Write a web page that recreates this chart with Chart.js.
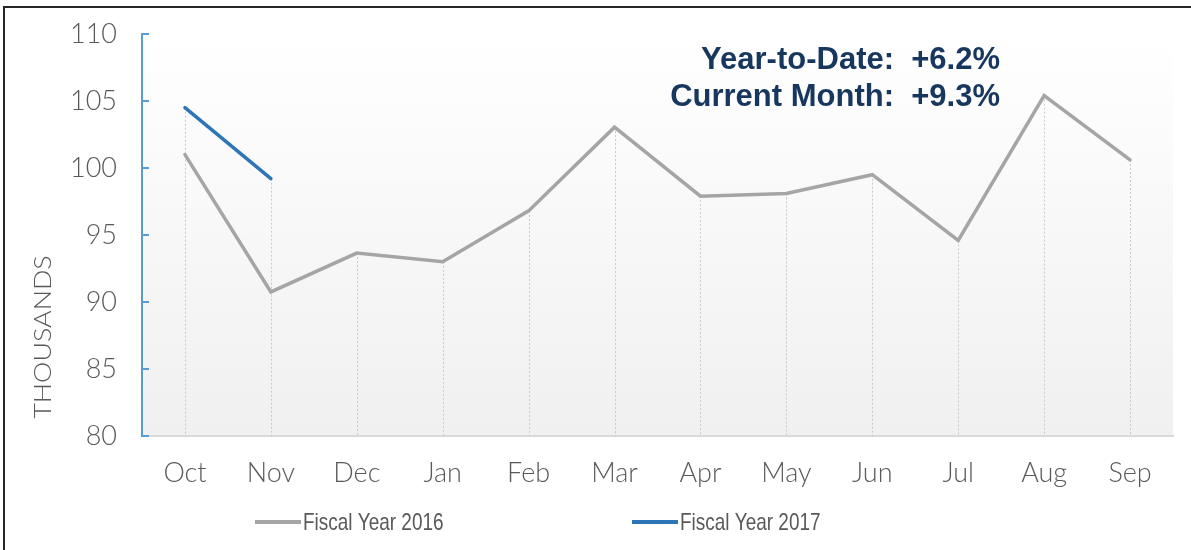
<!DOCTYPE html>
<html>
<head>
<meta charset="utf-8">
<script src="https://cdn.jsdelivr.net/npm/chart.js@4"></script>
<style>
  html, body { margin: 0; padding: 0; background: #fff; }
  #wrap { width: 1191px; height: 550px; position: relative; }
</style>
</head>
<body>
<div id="wrap"><canvas id="chart"></canvas></div>
<script>
// data
const months = ["Oct", "Nov", "Dec", "Jan", "Feb", "Mar", "Apr", "May", "Jun", "Jul", "Aug", "Sep"];
const fy2016 = [101.0, 90.75, 93.65, 93.0, 96.8, 103.05, 97.9, 98.1, 99.5, 94.6, 105.4, 100.6];
const fy2017 = [104.5, 99.2];
const yTicks = [80, 85, 90, 95, 100, 105, 110];
const notes = ["Year-to-Date:  +6.2%", "Current Month:  +9.3%"];

const GRAY = "#a5a5a5";
const BLUE = "#2e75b6";
const TXT = "#595959";

// frame, plot background, drop lines, inner ticks, notes, legend
const decor = {
  id: "decor",
  beforeDraw(chart) {
    const { ctx, chartArea: a } = chart;
    ctx.save();
    const g = ctx.createLinearGradient(0, a.top, 0, a.bottom);
    g.addColorStop(0, "#ffffff");
    g.addColorStop(1, "#f0f0f0");
    ctx.fillStyle = g;
    ctx.fillRect(a.left, a.top, a.right - a.left, a.bottom - a.top);
    ctx.restore();
  },
  beforeDatasetsDraw(chart) {
    const { ctx, chartArea: a, scales } = chart;
    ctx.save();
    // drop lines from the highest point of each category
    ctx.strokeStyle = "#c9c9c9";
    ctx.lineWidth = 1;
    ctx.setLineDash([2, 2]);
    months.forEach((m, i) => {
      const vals = chart.data.datasets.map(d => d.data[i]).filter(v => v != null);
      const top = Math.max(...vals);
      const x = Math.round(scales.x.getPixelForValue(i)) + 0.5;
      ctx.beginPath();
      ctx.moveTo(x, scales.y.getPixelForValue(top));
      ctx.lineTo(x, a.bottom);
      ctx.stroke();
    });
    ctx.setLineDash([]);
    // tick marks pointing into the plot
    ctx.strokeStyle = "#5b9bd5";
    ctx.lineWidth = 2;
    yTicks.forEach(v => {
      const y = Math.round(scales.y.getPixelForValue(v));
      ctx.beginPath();
      ctx.moveTo(a.left, y);
      ctx.lineTo(a.left + 7, y);
      ctx.stroke();
    });
    ctx.restore();
  },
  afterDraw(chart) {
    const { ctx } = chart;
    ctx.save();
    // outer frame
    ctx.strokeStyle = "#262626";
    ctx.lineWidth = 2;
    ctx.beginPath();
    ctx.moveTo(4, 550);
    ctx.lineTo(4, 7);
    ctx.lineTo(1191, 7);
    ctx.stroke();

    // axis title (wide lettering like the original)
    ctx.fillStyle = TXT;
    ctx.font = "300 24px Lato";
    ctx.translate(43, 337);
    ctx.rotate(-Math.PI / 2);
    ctx.scale(1.12, 1);
    ctx.textAlign = "center";
    ctx.textBaseline = "middle";
    ctx.fillText("THOUSANDS", 0, 0);
    ctx.setTransform(1, 0, 0, 1, 0, 0);

    // notes
    ctx.fillStyle = "#17375e";
    ctx.font = "bold 31px 'Liberation Sans'";
    ctx.textAlign = "right";
    ctx.textBaseline = "middle";
    notes.forEach((t, i) => ctx.fillText(t, 1000, 60 + i * 37));

    // legend (narrow lettering)
    ctx.font = "24px 'Liberation Sans'";
    ctx.textAlign = "left";
    ctx.fillStyle = TXT;
    const starts = [255, 632];
    chart.data.datasets.forEach((d, i) => {
      const x = starts[i];
      ctx.strokeStyle = d.borderColor;
      ctx.lineWidth = 4;
      ctx.beginPath();
      ctx.moveTo(x, 522);
      ctx.lineTo(x + 46, 522);
      ctx.stroke();
      ctx.save();
      ctx.translate(x + 48, 523);
      ctx.scale(0.79, 1);
      ctx.fillText(d.label, 0, 0);
      ctx.restore();
    });
    ctx.restore();
  }
};

new Chart(document.getElementById("chart"), {
  type: "line",
  data: {
    labels: months,
    datasets: [
      { label: "Fiscal Year 2016", data: fy2016, borderColor: GRAY, backgroundColor: GRAY },
      { label: "Fiscal Year 2017", data: fy2017, borderColor: BLUE, backgroundColor: BLUE }
    ]
  },
  options: {
    responsive: true,
    maintainAspectRatio: false,
    animation: false,
    events: [],
    layout: { padding: { left: 0, right: 18, top: 34, bottom: 54 } },
    elements: {
      line: { borderWidth: 3.5, tension: 0, borderCapStyle: "round", borderJoinStyle: "miter" },
      point: { radius: 0 }
    },
    plugins: { legend: { display: false }, tooltip: { enabled: false } },
    scales: {
      x: {
        offset: true,
        grid: { display: false, drawTicks: false },
        border: { color: "#d9d9d9", width: 2 },
        ticks: { color: TXT, font: { family: "Lato", size: 27, weight: 300 }, padding: 21, maxRotation: 0 },
        afterFit(s) { s.height = 60; s.paddingLeft = 0; s.paddingRight = 0; }
      },
      y: {
        min: 80,
        max: 110,
        afterBuildTicks(s) { s.ticks = yTicks.map(v => ({ value: v })); },
        grid: { display: false, drawTicks: false },
        border: { color: "#5b9bd5", width: 2 },
        ticks: { color: TXT, font: { family: "Lato", size: 27, weight: 300 }, padding: 25 },
        afterFit(s) { s.width = 142; s.paddingTop = 0; s.paddingBottom = 0; }
      }
    }
  },
  plugins: [decor]
});
</script>
</body>
</html>
